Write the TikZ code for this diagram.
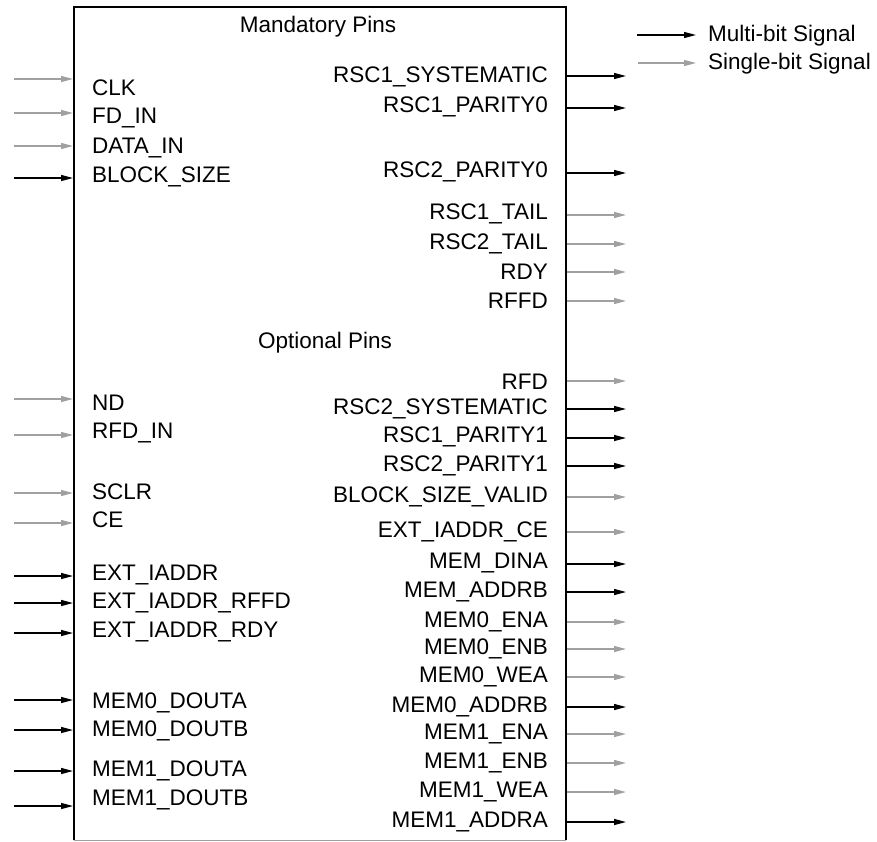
\documentclass[tikz,border=0pt]{standalone}
\usepackage{fontspec}
\setmainfont{Liberation Sans}
\usetikzlibrary{arrows.meta}
\definecolor{sgray}{HTML}{A0A0A0}
\tikzset{
  lbl/.style={inner sep=0pt, font=\fontsize{22.5}{25}\selectfont},
  multi/.style={draw=black, line width=1.3pt, -{Triangle[length=12pt,width=6pt]}},
  single/.style={draw=sgray, line width=1.3pt, -{Triangle[length=12pt,width=6pt]}},
}
\begin{document}
\begin{tikzpicture}[x=1pt,y=-1pt]
\useasboundingbox (0,0) rectangle (877,841);
% box
\draw[line width=2.4pt] (74,840) -- (74,7) -- (566,7) -- (566,840);
\draw[sgray, line width=0.8pt] (74,840) -- (566,840);
\node[lbl] (mand) at (318,27) {Mandatory Pins};
\node[lbl] (opt) at (325,343) {Optional Pins};
% legend
\coordinate (lm0) at (637,35); \coordinate (lm1) at (696,35);
\coordinate (ls0) at (638,63); \coordinate (ls1) at (696,63);
\draw[multi] (lm0) -- (lm1);
\draw[single] (ls0) -- (ls1);
\node[lbl, anchor=west] (lmt) at (708,36) {Multi-bit Signal};
\node[lbl, anchor=west] (lst) at (708,64) {Single-bit Signal};
% left inputs: name/arrow y/text y/style
\foreach \n/\ay/\ty/\s in {CLK/79/88/single, FD\_IN/113/118/single, DATA\_IN/146/148/single, BLOCK\_SIZE/178/177/multi,
  ND/399/403/single, RFD\_IN/435/433/single, SCLR/493/492/single, CE/523/520/single,
  EXT\_IADDR/576/575/multi, EXT\_IADDR\_RFFD/603/603/multi, EXT\_IADDR\_RDY/633/632/multi,
  MEM0\_DOUTA/700/703/multi, MEM0\_DOUTB/730/731/multi, MEM1\_DOUTA/771/771/multi, MEM1\_DOUTB/806/800/multi}
{
  \coordinate (a) at (14,\ay);
  \coordinate (b) at (73,\ay);
  \draw[\s] (a) -- (b);
  \node[lbl, anchor=west] at (92,\ty) {\n};
}
% right outputs
\foreach \n/\ay/\ty/\s in {RSC1\_SYSTEMATIC/76/77/multi, RSC1\_PARITY0/108/107/multi, RSC2\_PARITY0/173/172/multi,
  RSC1\_TAIL/215/214/single, RSC2\_TAIL/244/244/single, RDY/272/272/single, RFFD/301/301/single,
  RFD/381/382/single, RSC2\_SYSTEMATIC/409/409/multi, RSC1\_PARITY1/438/437/multi, RSC2\_PARITY1/466/466/multi,
  BLOCK\_SIZE\_VALID/497/497/single, EXT\_IADDR\_CE/532/532/single, MEM\_DINA/564/563/multi,
  MEM\_ADDRB/592/592/multi, MEM0\_ENA/622/622/single, MEM0\_ENB/649/649/single, MEM0\_WEA/677/677/single,
  MEM0\_ADDRB/707/707/multi, MEM1\_ENA/734/734/single, MEM1\_ENB/763/763/single, MEM1\_WEA/792/792/single,
  MEM1\_ADDRA/822/822/multi}
{
  \coordinate (c) at (567,\ay);
  \coordinate (d) at (626,\ay);
  \draw[\s] (c) -- (d);
  \node[lbl, anchor=east] at (548,\ty) {\n};
}
\end{tikzpicture}
\end{document}
